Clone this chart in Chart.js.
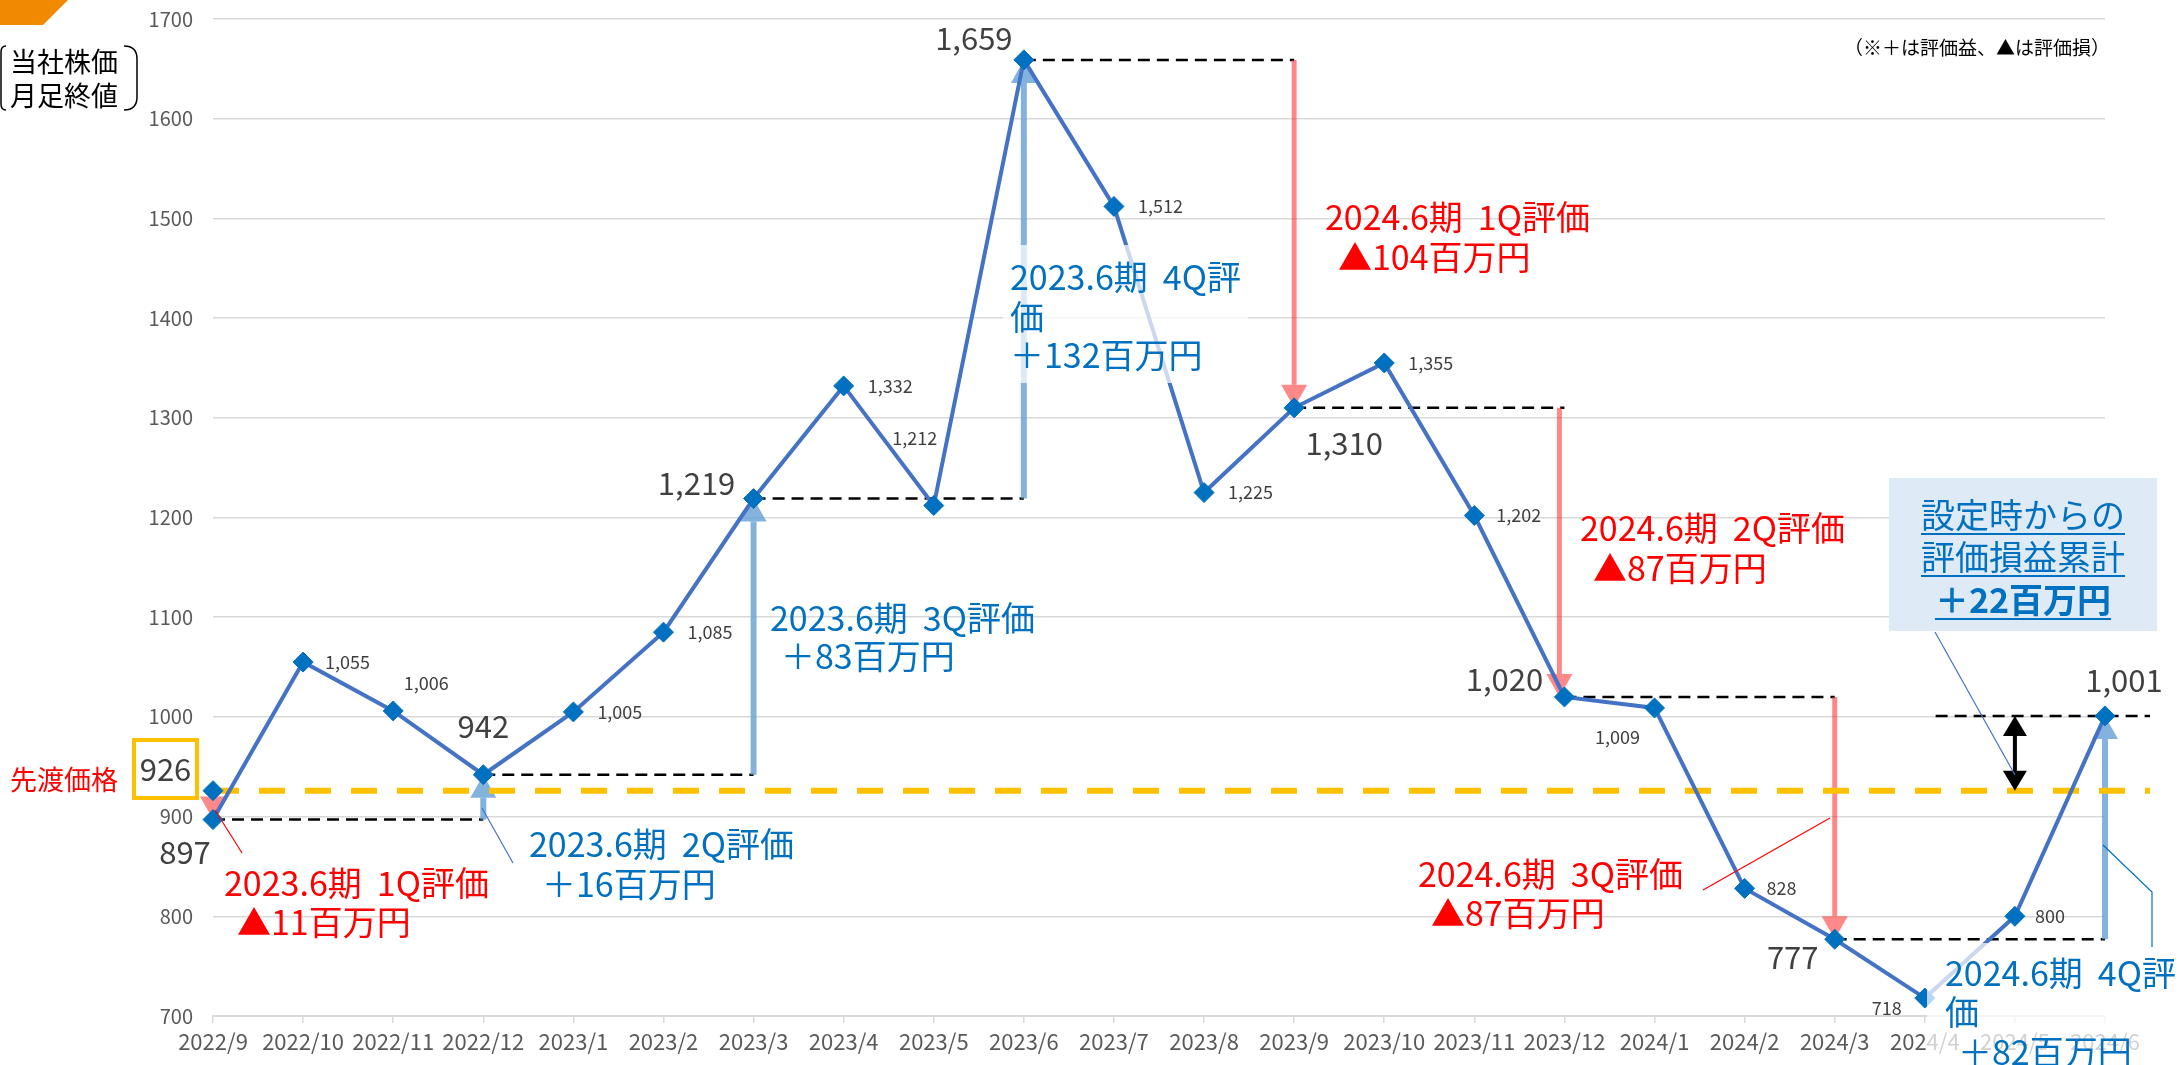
<!DOCTYPE html>
<html><head><meta charset="utf-8">
<script src="https://cdn.jsdelivr.net/npm/chart.js@4.4.1/dist/chart.umd.min.js"></script>
<style>html,body{margin:0;padding:0;background:#fff;overflow:hidden}canvas{display:block}</style>
</head><body>
<canvas id="c" width="2179" height="1065"></canvas>
<script>
// ---- data ----
const months = ['2022/9','2022/10','2022/11','2022/12','2023/1','2023/2','2023/3','2023/4','2023/5','2023/6','2023/7','2023/8','2023/9','2023/10','2023/11','2023/12','2024/1','2024/2','2024/3','2024/4','2024/5','2024/6'];
const closePrices = [897,1055,1006,942,1005,1085,1219,1332,1212,1659,1512,1225,1310,1355,1202,1020,1009,828,777,718,800,1001];
const forwardPrice = 926;
const quarterIdx = [0,3,6,9,12,15,18,21];
const quarterTitles = ['2023.6期 1Q評価','2023.6期 2Q評価','2023.6期 3Q評価','2023.6期 4Q評価','2024.6期 1Q評価','2024.6期 2Q評価','2024.6期 3Q評価','2024.6期 4Q評価'];
const quarterAmounts = ['▲11百万円','＋16百万円','＋83百万円','＋132百万円','▲104百万円','▲87百万円','▲87百万円','＋82百万円'];
const cumulativeLines = ['設定時からの','評価損益累計','＋22百万円'];
const yMin = 700, yMax = 1700, yStep = 100;

// ---- styles / layout ----
const JP = '"Noto Sans CJK JP","Noto Sans",sans-serif';
const RED = '#FF0000', BLUE = '#0070C0';
const ARROW_RED = 'rgba(255,40,40,0.55)', ARROW_BLUE = 'rgba(100,160,212,0.8)';
const bigLabelOff = {0:[-28,33],3:[0,-49],6:[-57,-15],9:[-50,-22],12:[50,35],15:[-60,-18],18:[-42,18],21:[19,-36]};
const smallLabelOff = {1:[22,0,'left'],2:[33,-28,'center'],4:[24,0,'left'],5:[24,0,'left'],7:[24,0,'left'],8:[-19,-67,'center'],10:[24,0,'left'],11:[24,0,'left'],13:[24,0,'left'],14:[22,0,'left'],16:[-37,29,'center'],17:[22,0,'left'],19:[-23,10,'right'],20:[20,0,'left']};
const noteLayout = [
  {color:RED, lines:[[224,883],[237,922]]},
  {color:BLUE, lines:[[529,844],[542,884]]},
  {color:BLUE, lines:[[770,618],[781,656]]},
  {color:BLUE, wrap:11, lines:[[1010,277],[1010,317],[1010,355]], box:[1003,245,245,138]},
  {color:RED, lines:[[1325,217],[1338,257]]},
  {color:RED, lines:[[1580,528],[1593,568]]},
  {color:RED, lines:[[1418,874],[1431,913]]},
  {color:BLUE, wrap:11, lines:[[1945,973],[1945,1012],[1958,1052]], box:[1927,943,252,122]}
];

const fmt = v => v.toLocaleString('en-US');

function drawSpaced(ctx, s, x, y, gap) {
  const parts = s.split(' ');
  let cx = x;
  parts.forEach((p, k) => {
    ctx.fillText(p, cx, y);
    cx += ctx.measureText(p).width + (k < parts.length - 1 ? gap : 0);
  });
}

const annot = {
  id:'annot',
  beforeDatasetsDraw(chart){
    const ctx = chart.ctx, xs = chart.scales.x, ys = chart.scales.y;
    const X = i => xs.getPixelForValue(i), Y = v => ys.getPixelForValue(v);
    ctx.save();
    ctx.strokeStyle = '#000'; ctx.lineWidth = 2.5; ctx.setLineDash([12,7]);
    for (let q = 0; q < quarterIdx.length - 1; q++) {
      const v = closePrices[quarterIdx[q]];
      ctx.beginPath(); ctx.moveTo(X(quarterIdx[q]), Y(v)); ctx.lineTo(X(quarterIdx[q+1]), Y(v)); ctx.stroke();
    }
    const last = closePrices[quarterIdx[quarterIdx.length-1]];
    ctx.beginPath(); ctx.moveTo(X(19.12), Y(last)); ctx.lineTo(X(21.5), Y(last)); ctx.stroke();
    ctx.setLineDash([]);
    for (let q = 0; q < quarterIdx.length; q++) {
      const from = q === 0 ? forwardPrice : closePrices[quarterIdx[q-1]];
      const to = closePrices[quarterIdx[q]];
      const x = X(quarterIdx[q]) + (q === 5 ? -5 : 0);
      const up = to > from;
      ctx.fillStyle = up ? ARROW_BLUE : ARROW_RED;
      const y0 = Y(from), y1 = Y(to), hl = 23, hw = 13, sw = up ? 6 : 5;
      const dir = up ? -1 : 1;
      ctx.beginPath();
      if (Math.abs(y1 - y0) > hl) {
        const yb = y1 - dir*hl;
        ctx.rect(x - sw/2, Math.min(y0, yb), sw, Math.abs(yb - y0));
      }
      ctx.fill();
      ctx.beginPath();
      ctx.moveTo(x, y1); ctx.lineTo(x - hw, y1 - dir*hl); ctx.lineTo(x + hw, y1 - dir*hl); ctx.closePath(); ctx.fill();
    }
    ctx.strokeStyle = '#FFC000'; ctx.lineWidth = 6; ctx.setLineDash([26,20]);
    ctx.beginPath(); ctx.moveTo(X(0), Y(forwardPrice)); ctx.lineTo(X(21.5), Y(forwardPrice)); ctx.stroke();
    ctx.setLineDash([]);
    ctx.restore();
  },
  afterDatasetsDraw(chart){
    const ctx = chart.ctx, xs = chart.scales.x, ys = chart.scales.y;
    const X = i => xs.getPixelForValue(i), Y = v => ys.getPixelForValue(v);
    const meta = chart.getDatasetMeta(0);
    ctx.save();
    ctx.textBaseline = 'middle';
    closePrices.forEach((v, i) => {
      const p = meta.data[i];
      if (bigLabelOff[i]) {
        ctx.font = '31px ' + JP; ctx.fillStyle = '#404040'; ctx.textAlign = 'center';
        ctx.fillText(fmt(v), p.x + bigLabelOff[i][0], p.y + bigLabelOff[i][1]);
      } else if (smallLabelOff[i]) {
        const o = smallLabelOff[i];
        ctx.font = '18px ' + JP; ctx.fillStyle = '#404040'; ctx.textAlign = o[2];
        ctx.fillText(fmt(v), p.x + o[0], p.y + o[1]);
      }
    });
    {
      const x = X(20), ya = Y(closePrices[21]), yb = Y(forwardPrice);
      ctx.fillStyle = '#000';
      ctx.fillRect(x - 2, ya + 18, 4, yb - ya - 36);
      ctx.beginPath(); ctx.moveTo(x, ya); ctx.lineTo(x - 12, ya + 20); ctx.lineTo(x + 12, ya + 20); ctx.closePath(); ctx.fill();
      ctx.beginPath(); ctx.moveTo(x, yb); ctx.lineTo(x - 12, yb - 20); ctx.lineTo(x + 12, yb - 20); ctx.closePath(); ctx.fill();
    }
    noteLayout.forEach(L => {
      if (L.box) { ctx.fillStyle = 'rgba(255,255,255,0.72)'; ctx.fillRect(L.box[0], L.box[1], L.box[2], L.box[3]); }
    });
    noteLayout.forEach((L, q) => {
      const t = quarterTitles[q];
      const lines = L.wrap ? [t.slice(0, L.wrap), t.slice(L.wrap), quarterAmounts[q]] : [t, quarterAmounts[q]];
      ctx.font = '34px ' + JP; ctx.fillStyle = L.color; ctx.textAlign = 'left'; ctx.textBaseline = 'middle';
      lines.forEach((s, k) => drawSpaced(ctx, s, L.lines[k][0], L.lines[k][1], 15));
    });
    ctx.lineWidth = 1.2;
    const seg = (c, pts) => { ctx.strokeStyle = c; ctx.beginPath(); ctx.moveTo(pts[0][0], pts[0][1]); for (let k = 1; k < pts.length; k++) ctx.lineTo(pts[k][0], pts[k][1]); ctx.stroke(); };
    seg(RED, [[242,853],[215,810]]);
    seg('#4472C4', [[513,863],[482,808]]);
    seg(RED, [[1703,890],[1830,818]]);
    seg(BLUE, [[2103,845],[2152,892],[2152,947]]);
    seg('#4472C4', [[1935,632],[2015,775]]);
    ctx.fillStyle = '#DEEBF7'; ctx.fillRect(1889, 478, 268, 153);
    ctx.fillStyle = BLUE; ctx.strokeStyle = BLUE; ctx.lineWidth = 2; ctx.textAlign = 'center';
    [515, 557, 600].forEach((y, k) => {
      ctx.font = (k === 2 ? 'bold ' : '') + '34px ' + JP;
      ctx.fillText(cumulativeLines[k], 2023, y);
      const w = ctx.measureText(cumulativeLines[k]).width;
      ctx.beginPath(); ctx.moveTo(2023 - w/2, y + 19); ctx.lineTo(2023 + w/2, y + 19); ctx.stroke();
    });
    ctx.strokeStyle = '#FFC000'; ctx.lineWidth = 4; ctx.strokeRect(134, 740, 63, 58);
    ctx.fillStyle = '#404040'; ctx.font = '31px ' + JP; ctx.textAlign = 'center';
    ctx.fillText(String(forwardPrice), 165.5, 769);
    ctx.fillStyle = RED; ctx.font = '27px ' + JP; ctx.textAlign = 'left';
    ctx.fillText('先渡価格', 10, 780);
    ctx.fillStyle = '#000'; ctx.font = '27px ' + JP;
    ctx.fillText('当社株価', 10, 62);
    ctx.fillText('月足終値', 10, 96);
    ctx.strokeStyle = '#000'; ctx.lineWidth = 1.5;
    ctx.beginPath(); ctx.moveTo(124, 46); ctx.quadraticCurveTo(137, 46, 137, 59); ctx.lineTo(137, 97); ctx.quadraticCurveTo(137, 110, 124, 110); ctx.stroke();
    ctx.beginPath(); ctx.moveTo(6, 46); ctx.quadraticCurveTo(1, 46, 1, 52); ctx.lineTo(1, 104); ctx.quadraticCurveTo(1, 110, 6, 110); ctx.stroke();
    ctx.fillStyle = '#F18A00';
    ctx.beginPath(); ctx.moveTo(0, 0); ctx.lineTo(68, 0); ctx.lineTo(43, 25); ctx.lineTo(0, 25); ctx.closePath(); ctx.fill();
    ctx.fillStyle = '#000'; ctx.font = '19px ' + JP; ctx.textAlign = 'right';
    ctx.fillText('（※＋は評価益、▲は評価損）', 2110, 48);
    ctx.restore();
  }
};

new Chart(document.getElementById('c'), {
  type: 'line',
  data: {
    labels: months,
    datasets: [
      {data: closePrices, borderColor:'#4472C4', borderWidth:4, tension:0,
       pointStyle:'rectRot', pointRadius:10, pointBackgroundColor:'#0070C0', pointBorderColor:'#0070C0', pointBorderWidth:1},
      {data: months.map((m, i) => i === 0 ? forwardPrice : null), showLine:false,
       pointStyle:'rectRot', pointRadius:10, pointBackgroundColor:'#0070C0', pointBorderColor:'#0070C0', pointBorderWidth:1}
    ]
  },
  options: {
    responsive:false, animation:false, devicePixelRatio:1,
    layout:{autoPadding:false, padding:{top:19, right:74, left:0, bottom:0}},
    plugins:{legend:{display:false}, tooltip:{enabled:false}},
    scales:{
      x:{type:'category', offset:false,
         grid:{drawOnChartArea:false, drawTicks:true, tickLength:7, color:'#d9d9d9', lineWidth:1.5},
         border:{color:'#d9d9d9', width:2},
         ticks:{color:'#595959', font:{size:22, family:JP}, padding:5, maxRotation:0, autoSkip:false},
         afterFit:s => { s.height = 49; s.paddingLeft = 0; s.paddingRight = 0; }},
      y:{min:yMin, max:yMax,
         ticks:{stepSize:yStep, color:'#595959', font:{size:20, family:JP}, padding:20, callback:v => String(v)},
         grid:{color:'#d9d9d9', lineWidth:1.5, drawTicks:false},
         border:{display:false},
         afterFit:s => { s.width = 213; s.paddingTop = 0; s.paddingBottom = 0; }}
    }
  },
  plugins:[annot]
});
</script>
</body></html>
